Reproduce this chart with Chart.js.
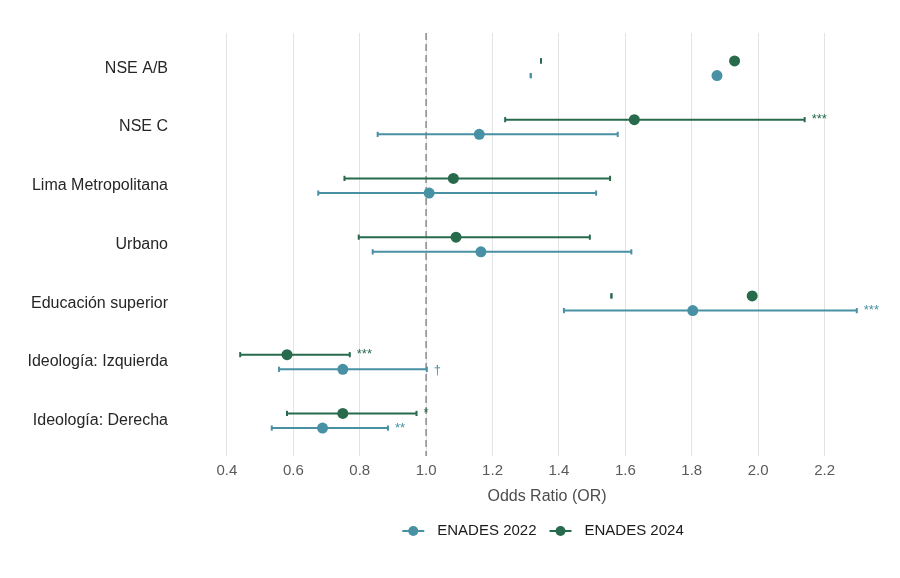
<!DOCTYPE html>
<html lang="es">
<head>
<meta charset="utf-8">
<title>Odds Ratio ENADES 2022 / 2024</title>
<script src="https://cdn.jsdelivr.net/npm/chart.js@4.4.1/dist/chart.umd.min.js"></script>
<style>
  html, body { margin: 0; padding: 0; background: #ffffff; }
  #wrap { width: 900px; height: 578px; }
</style>
</head>
<body>
<div id="wrap"><canvas id="orChart" width="900" height="578"></canvas></div>
<script>
// ---- datos ----
const categorias = [
  "NSE A/B",
  "NSE C",
  "Lima Metropolitana",
  "Urbano",
  "Educación superior",
  "Ideología: Izquierda",
  "Ideología: Derecha"
];

const or2022  = [1.876, 1.160, 1.009, 1.165, 1.803, 0.749, 0.688];
const inf2022 = [1.315, 0.854, 0.675, 0.839, 1.415, 0.557, 0.535];
const sup2022 = [1.315, 1.577, 1.512, 1.618, 2.297, 1.002, 0.885];
const sig2022 = ["", "", "", "", "***", "†", "**"];

const or2024  = [1.929, 1.627, 1.082, 1.090, 1.982, 0.581, 0.749];
const inf2024 = [1.346, 1.238, 0.754, 0.797, 1.558, 0.440, 0.581];
const sup2024 = [1.346, 2.140, 1.554, 1.493, 1.558, 0.770, 0.971];
const sig2024 = ["", "***", "", "", "", "***", "*"];

const xTicks = [0.4, 0.6, 0.8, 1.0, 1.2, 1.4, 1.6, 1.8, 2.0, 2.2];

const series = [
  { nombre: "ENADES 2022", color: "#4891a5", or: or2022, inf: inf2022, sup: sup2022, sig: sig2022, off: 0.125 },
  { nombre: "ENADES 2024", color: "#286a4c", or: or2024, inf: inf2024, sup: sup2024, sig: sig2024, off: -0.125 }
];

const FUENTE = "'Liberation Sans', Arial, sans-serif";

// ---- datasets ----
const datasets = [];

series.forEach(s => {
  datasets.push({
    label: s.nombre,
    data: s.or.map((v, i) => ({ x: v, y: i + s.off })),
    backgroundColor: s.color,
    borderWidth: 0,
    pointRadius: 5.5,
    showLine: false,
    order: 0
  });
});

series.forEach(s => {
  s.or.forEach((v, i) => {
    datasets.push({
      label: "ic",
      data: [{ x: s.inf[i], y: i + s.off }, { x: s.sup[i], y: i + s.off }],
      borderColor: s.color,
      borderWidth: 2,
      showLine: true,
      pointStyle: "line",
      pointRotation: 90,
      pointRadius: 2.6,
      pointBorderWidth: 2,
      pointBorderColor: s.color,
      order: 1
    });
  });
});

// linea de referencia OR = 1
datasets.push({
  label: "ref",
  data: [{ x: 1, y: -0.6 }, { x: 1, y: 6.6 }],
  borderColor: "#9a9a9a",
  borderWidth: 1.8,
  borderDash: [7, 4],
  showLine: true,
  pointRadius: 0,
  order: 2
});

// ---- plugin: asteriscos de significancia ----
const etiquetasSig = {
  id: "etiquetasSig",
  afterDatasetsDraw(chart) {
    const { ctx, scales: { x, y } } = chart;
    ctx.save();
    ctx.font = "13px " + FUENTE;
    ctx.textAlign = "left";
    ctx.textBaseline = "middle";
    series.forEach(s => {
      ctx.fillStyle = s.color;
      s.sig.forEach((txt, i) => {
        if (!txt) return;
        const px = x.getPixelForValue(s.sup[i]) + 7;
        const py = y.getPixelForValue(i + s.off);
        ctx.fillText(txt, px, py + (txt === "†" ? 1 : 0));
      });
    });
    ctx.restore();
  }
};

// ---- plugin: leyenda estilo ggplot ----
const leyenda = {
  id: "leyenda",
  afterDraw(chart) {
    const { ctx, chartArea } = chart;
    ctx.save();
    ctx.font = "15px " + FUENTE;
    ctx.textBaseline = "middle";
    const marca = 22, sep = 13, entre = 13;
    const anchos = series.map(s => ctx.measureText(s.nombre).width);
    const total = anchos.reduce((a, b) => a + b, 0) + series.length * (marca + sep) + entre;
    let x0 = (chartArea.left + chartArea.right) / 2 - 4 - total / 2;
    const y0 = 531;
    series.forEach((s, k) => {
      ctx.strokeStyle = s.color;
      ctx.lineWidth = 2;
      ctx.beginPath();
      ctx.moveTo(x0, y0);
      ctx.lineTo(x0 + marca, y0);
      ctx.stroke();
      ctx.fillStyle = s.color;
      ctx.beginPath();
      ctx.arc(x0 + marca / 2, y0, 5, 0, Math.PI * 2);
      ctx.fill();
      ctx.fillStyle = "#1a1a1a";
      ctx.fillText(s.nombre, x0 + marca + sep, y0);
      x0 += marca + sep + anchos[k] + entre;
    });
    ctx.restore();
  }
};

new Chart(document.getElementById("orChart"), {
  type: "scatter",
  data: { datasets: datasets },
  options: {
    responsive: false,
    animation: false,
    layout: { padding: { top: 33, right: 15, bottom: 68, left: 0 } },
    scales: {
      x: {
        type: "linear",
        position: "bottom",
        min: 0.346,
        max: 2.382,
        afterBuildTicks: scale => { scale.ticks = xTicks.map(v => ({ value: v })); },
        afterFit: scale => {
          scale.height = 54;
          scale.paddingLeft = 0;
          scale.paddingRight = 0;
        },
        grid: { color: "#e3e3e3", lineWidth: 1, drawTicks: false },
        border: { display: false },
        ticks: {
          padding: 6,
          color: "#5a5a5a",
          font: { family: FUENTE, size: 15 },
          callback: v => Number(v).toFixed(1)
        },
        title: {
          display: true,
          text: "Odds Ratio (OR)",
          color: "#4d4d4d",
          font: { family: FUENTE, size: 16 }
        }
      },
      y: {
        type: "linear",
        min: -0.6,
        max: 6.6,
        reverse: true,
        afterBuildTicks: scale => { scale.ticks = categorias.map((c, i) => ({ value: i })); },
        afterFit: scale => {
          scale.width = 209;
          scale.paddingTop = 0;
          scale.paddingBottom = 0;
        },
        grid: { display: false },
        border: { display: false },
        ticks: {
          padding: 33,
          color: "#262626",
          font: { family: FUENTE, size: 16 },
          callback: v => categorias[v]
        }
      }
    },
    plugins: {
      legend: { display: false },
      tooltip: { enabled: false }
    }
  },
  plugins: [etiquetasSig, leyenda]
});
</script>
</body>
</html>
